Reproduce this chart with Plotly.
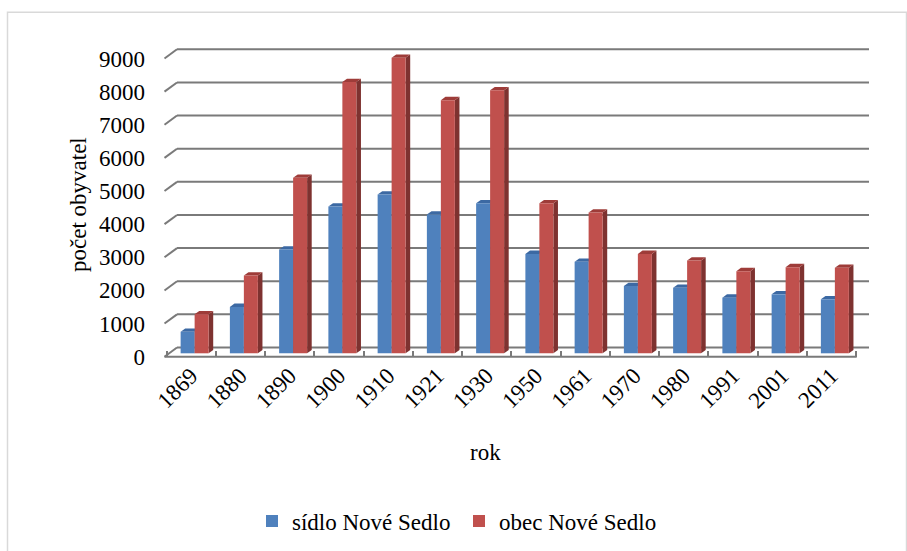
import plotly.graph_objects as go

# ---- data ----
years = ["1869", "1880", "1890", "1900", "1910", "1921", "1930",
         "1950", "1961", "1970", "1980", "1991", "2001", "2011"]
sidlo = [650, 1400, 3130, 4430, 4790, 4190, 4530,
         3000, 2760, 2030, 1980, 1680, 1780, 1630]
obec = [1180, 2350, 5300, 8190, 8920, 7640, 7940,
        4530, 4250, 3000, 2800, 2480, 2600, 2580]
y_ticks = [0, 1000, 2000, 3000, 4000, 5000, 6000, 7000, 8000, 9000]
series_names = ["sídlo Nové Sedlo", "obec Nové Sedlo"]

# ---- geometry (pixels) ----
W, H = 907, 551
X_L, X_R, Y_T, Y_B = 164, 870, 40, 365
CAT_X0, CAT_W = 166.5, 49.25
K = 298.2 / 9000.0
FRONT_Y0, BACK_Y0, BAR_Y0 = 356.7, 347.5, 353.3
BACK_X0, BACK_X1 = 177.0, 869.0
FRONT_XL, FRONT_XR = 164.5, 856.7

FONT = "Liberation Serif"
FS = 23

def pxx(p):
    return p / W

def pxy(p):
    return 1 - p / H

def xr():
    return [(X_L - CAT_X0) / CAT_W - 0.5, (X_R - CAT_X0) / CAT_W - 0.5]

def yr(y0):
    return [(y0 - Y_B) / K, (y0 - Y_T) / K]

BLUE, RED = "#4F81BD", "#C0504D"
BLUE_TOP, RED_TOP, RED_SIDE, BLUE_SIDE = "#3C69A3", "#9E3C39", "#7E3230", "#355E92"
BW = 0.284
B_OFF = -0.213
R_OFF = B_OFF + BW
DXU = 4.6 / CAT_W
DYU = 3.3 / K

idx = list(range(len(years)))

fig = go.Figure()
fig.add_trace(go.Bar(x=idx, y=sidlo, name=series_names[0], xaxis="x3", yaxis="y3",
                     offset=B_OFF, width=BW, marker=dict(color=BLUE, line=dict(width=0))))
fig.add_trace(go.Bar(x=idx, y=obec, name=series_names[1], xaxis="x3", yaxis="y3",
                     offset=R_OFF, width=BW, marker=dict(color=RED, line=dict(width=0))))

shapes = []
GRID = "#7a7a7a"
for v in y_ticks:
    shapes.append(dict(type="line", xref="paper", yref="y2", x0=pxx(BACK_X0), x1=pxx(BACK_X1),
                       y0=v, y1=v, line=dict(color=GRID, width=2), layer="below"))
    shapes.append(dict(type="line", xref="paper", yref="paper",
                       x0=pxx(FRONT_XL), y0=pxy(FRONT_Y0 - v * K),
                       x1=pxx(BACK_X0), y1=pxy(BACK_Y0 - v * K),
                       line=dict(color=GRID, width=2), layer="below"))
shapes.append(dict(type="line", xref="paper", yref="y", x0=pxx(FRONT_XL), x1=pxx(FRONT_XR),
                   y0=0, y1=0, line=dict(color=GRID, width=2), layer="below"))

def para(x0, x1, v, color):
    return dict(type="path", xref="x3", yref="y3",
                path=f"M {x0},{v} L {x1},{v} L {x1 + DXU},{v + DYU} L {x0 + DXU},{v + DYU} Z",
                fillcolor=color, line=dict(width=0), layer="below")

def side(xr_, v, color):
    return dict(type="path", xref="x3", yref="y3",
                path=f"M {xr_},0 L {xr_},{v} L {xr_ + DXU},{v + DYU} L {xr_ + DXU},{DYU} Z",
                fillcolor=color, line=dict(width=0), layer="below")

for i in idx:
    shapes.append(side(i + B_OFF + BW, sidlo[i], BLUE_SIDE))
    shapes.append(para(i + B_OFF, i + B_OFF + BW, sidlo[i], BLUE_TOP))
    shapes.append(side(i + R_OFF + BW, obec[i], RED_SIDE))
    shapes.append(para(i + R_OFF, i + R_OFF + BW, obec[i], RED_TOP))

shapes.append(dict(type="rect", xref="paper", yref="paper", x0=pxx(7.5), x1=pxx(906.5),
                   y0=pxy(560), y1=pxy(12.3), line=dict(color="#d9d9d9", width=1.5),
                   fillcolor="rgba(0,0,0,0)", layer="above"))

dom_x = [pxx(X_L), pxx(X_R)]
dom_y = [pxy(Y_B), pxy(Y_T)]

fig.update_layout(
    template="none",
    width=W, height=H,
    margin=dict(l=0, r=0, t=0, b=0, pad=0, autoexpand=False),
    paper_bgcolor="white", plot_bgcolor="rgba(0,0,0,0)",
    barmode="overlay",
    font=dict(family=FONT, size=FS, color="#000000"),
    xaxis=dict(type="category", categoryorder="array", categoryarray=years,
               domain=dom_x, range=xr(), anchor="free", position=pxy(FRONT_Y0),
               tickmode="array", tickvals=years, ticktext=years, automargin=False,
               tickson="boundaries", ticks="inside", ticklen=6, tickwidth=2, tickcolor=GRID,
               tickangle=-45, showgrid=False, showline=False, zeroline=False,
               tickfont=dict(family=FONT, size=FS)),
    yaxis=dict(domain=dom_y, range=yr(FRONT_Y0), anchor="x", tickvals=y_ticks,
               ticks="", showgrid=False, zeroline=False, showline=False, automargin=False,
               ticklabelstandoff=18, tickfont=dict(family=FONT, size=FS)),
    yaxis2=dict(overlaying="y", range=yr(BACK_Y0), visible=False, automargin=False),
    xaxis3=dict(overlaying="x", type="linear", range=xr(), visible=False, automargin=False),
    yaxis3=dict(overlaying="y", range=yr(BAR_Y0), visible=False, automargin=False),
    shapes=shapes,
    showlegend=True,
    legend=dict(orientation="h", x=pxx(252), xanchor="left", y=pxy(521), yanchor="middle",
                font=dict(family=FONT, size=FS), itemwidth=30, entrywidth=162,
                bgcolor="rgba(0,0,0,0)"),
    annotations=[
        dict(text="rok", xref="paper", yref="paper", x=pxx(485), y=pxy(452),
             xanchor="center", yanchor="middle",
             showarrow=False, font=dict(family=FONT, size=FS)),
        dict(text="počet obyvatel", xref="paper", yref="paper", x=pxx(78), y=pxy(205),
             xanchor="center", yanchor="middle",
             showarrow=False, textangle=-90, font=dict(family=FONT, size=FS)),
    ],
)

fig.write_html("out.html", config={"displayModeBar": False},
               post_script="document.body.style.margin='0';")
